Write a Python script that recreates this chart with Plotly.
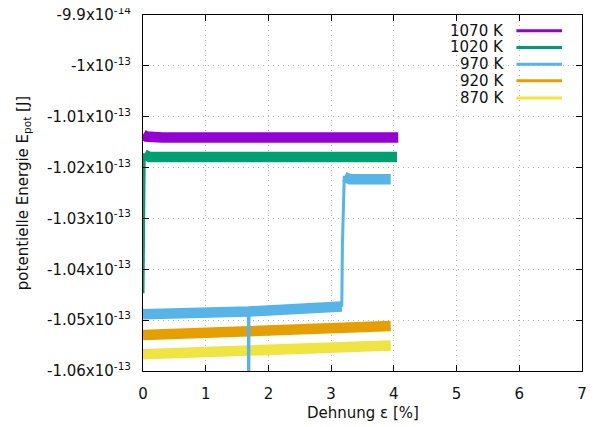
import plotly.graph_objects as go

# ---- data ----
temps = ["1070 K", "1020 K", "970 K", "920 K", "870 K"]
colors = ["#9400d3", "#009e73", "#56b4e9", "#e69f00", "#f0e442"]

# noisy plateau bands (strain %, energy J)
band_1070_x = [0.0, 0.05, 0.3, 4.07]
band_1070_y = [-1.0135e-13, -1.0139e-13, -1.0141e-13, -1.0141e-13]

band_1020_x = [0.02, 0.1, 4.05]
band_1020_y = [-1.0174e-13, -1.0179e-13, -1.0179e-13]
trans_1020_x = [0.0, 0.01, 0.02]
trans_1020_y = [-1.0447e-13, -1.0190e-13, -1.0172e-13]

band_970a_x = [0.0, 1.685, 3.17]
band_970a_y = [-1.04885e-13, -1.0483e-13, -1.0473e-13]
band_970b_x = [3.21, 3.3, 3.95]
band_970b_y = [-1.0218e-13, -1.0223e-13, -1.0223e-13]
trans_970_x = [1.68, 1.685, 1.69, 3.17, 3.18, 3.21]
trans_970_y = [-1.0483e-13, -1.0750e-13, -1.0483e-13, -1.0471e-13, -1.0350e-13, -1.0216e-13]

band_920_x = [0.0, 3.95]
band_920_y = [-1.05292e-13, -1.05115e-13]

band_870_x = [0.0, 3.95]
band_870_y = [-1.05672e-13, -1.05499e-13]

xtick_vals = [0, 1, 2, 3, 4, 5, 6, 7]
ytick_vals = [-0.99e-13, -1.00e-13, -1.01e-13, -1.02e-13, -1.03e-13, -1.04e-13, -1.05e-13, -1.06e-13]
ytick_text = ["-9.9x10<sup>-14</sup>", "-1x10<sup>-13</sup>", "-1.01x10<sup>-13</sup>",
              "-1.02x10<sup>-13</sup>", "-1.03x10<sup>-13</sup>", "-1.04x10<sup>-13</sup>",
              "-1.05x10<sup>-13</sup>", "-1.06x10<sup>-13</sup>"]

FONT = "DejaVu Sans"
FS = 15
BAND_W = 10.5
THIN_W = 3

fig = go.Figure()

def band(x, y, c):
    fig.add_trace(go.Scatter(x=x, y=y, mode="lines", line=dict(color=c, width=BAND_W),
                             showlegend=False, hoverinfo="skip"))

def thin(x, y, c):
    fig.add_trace(go.Scatter(x=x, y=y, mode="lines", line=dict(color=c, width=THIN_W),
                             showlegend=False, hoverinfo="skip"))

band(band_870_x, band_870_y, colors[4])
band(band_920_x, band_920_y, colors[3])
thin(trans_970_x, trans_970_y, colors[2])
band(band_970a_x, band_970a_y, colors[2])
band(band_970b_x, band_970b_y, colors[2])
thin(trans_1020_x, trans_1020_y, colors[1])
band(band_1020_x, band_1020_y, colors[1])
band(band_1070_x, band_1070_y, colors[0])

axis_common = dict(
    showline=True, linecolor="#000000", linewidth=1, mirror="ticks",
    ticks="inside", ticklen=6, tickcolor="#000000", tickwidth=1,
    showgrid=True, gridcolor="#b4b4b4", griddash="1px,4px", gridwidth=1,
    zeroline=False, automargin=False, ticklabeloverflow="allow",
    tickfont=dict(family=FONT, size=FS, color="#111111"),
)

fig.update_xaxes(range=[0, 7], tickvals=xtick_vals, ticklabelstandoff=9, **axis_common)
fig.update_yaxes(range=[-1.06e-13, -0.99e-13], tickvals=ytick_vals, ticktext=ytick_text,
                 ticklabelstandoff=8, **axis_common)

# legend (gnuplot style: text right-aligned, sample line to the right)
leg_y = [0.956, 0.909, 0.862, 0.815, 0.767]
shapes = []
annotations = []
for t, c, yy in zip(temps, colors, leg_y):
    annotations.append(dict(x=0.827, y=yy, xref="paper", yref="paper", text=t, showarrow=False,
                            xanchor="right", yanchor="middle", height=16,
                            font=dict(family=FONT, size=FS, color="#111111")))
    shapes.append(dict(type="line", xref="paper", yref="paper", x0=0.8506, x1=0.9545,
                       y0=yy, y1=yy, line=dict(color=c, width=3)))

annotations.append(dict(x=0.5, y=-0.119, xref="paper", yref="paper", text="Dehnung ε [%]",
                        showarrow=False, xanchor="center", yanchor="middle", height=16,
                        font=dict(family=FONT, size=FS, color="#111111")))
annotations.append(dict(x=-0.273, y=0.5, xref="paper", yref="paper",
                        text="potentielle Energie E<sub>pot</sub> [J]", textangle=-90,
                        showarrow=False, xanchor="center", yanchor="middle",
                        font=dict(family=FONT, size=FS, color="#111111")))

fig.update_layout(
    width=586, height=419,
    margin=dict(l=135, r=12, t=7, b=56),
    paper_bgcolor="white", plot_bgcolor="white",
    showlegend=False,
    shapes=shapes, annotations=annotations,
)

fig.write_html("out.html")
